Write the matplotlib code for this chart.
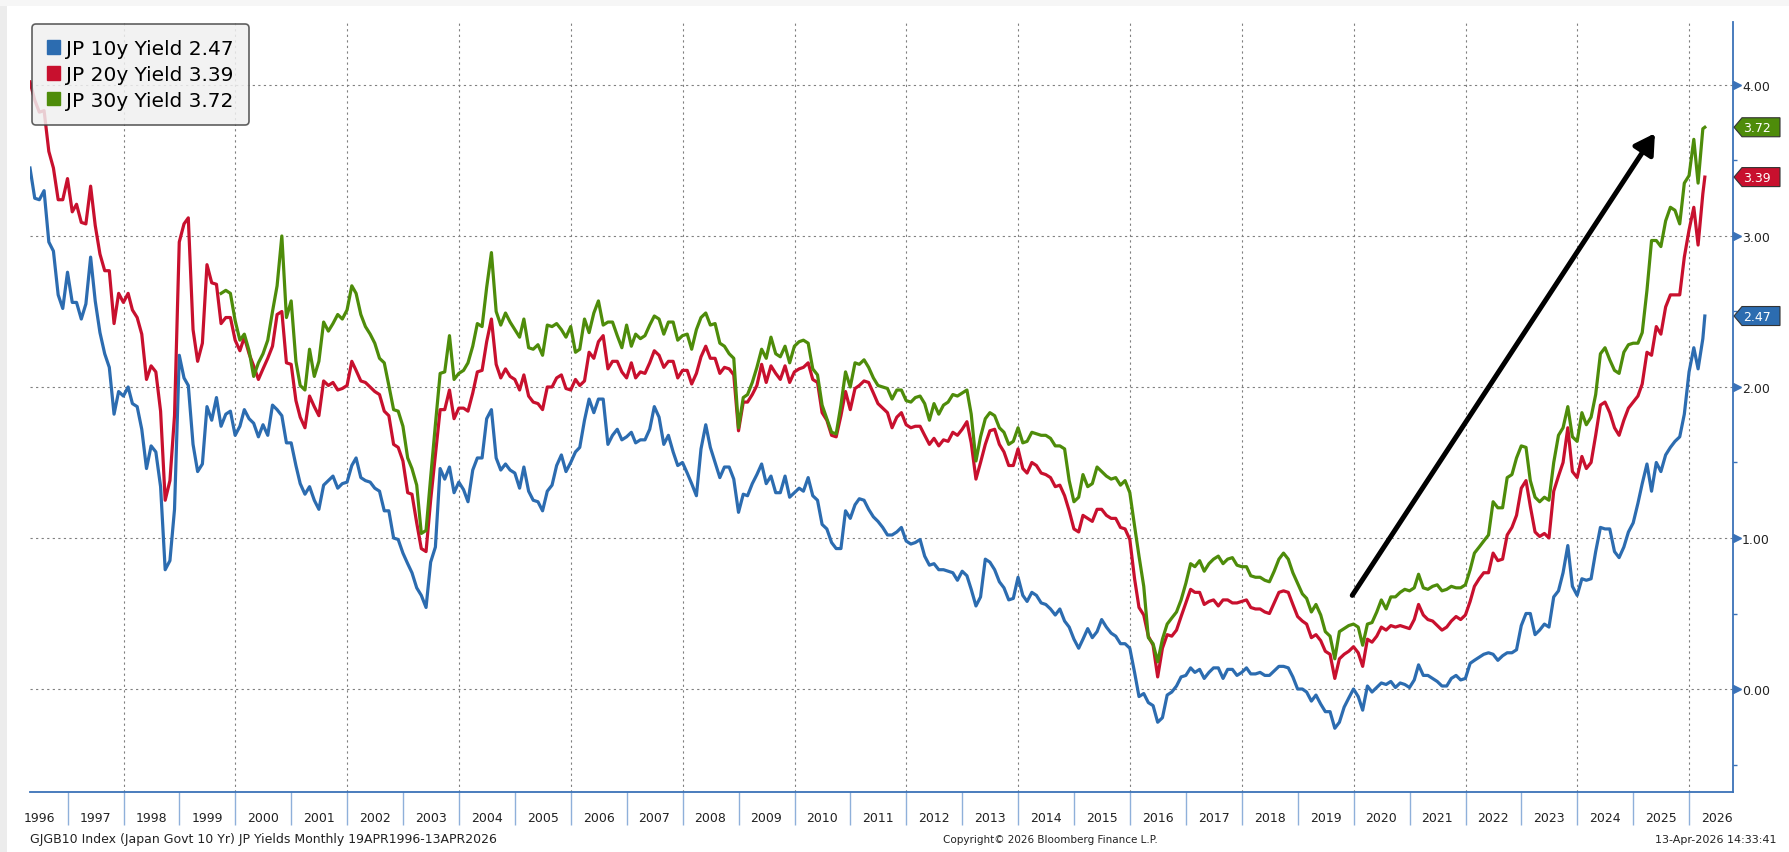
import matplotlib
matplotlib.use("Agg")
import matplotlib.pyplot as plt
import matplotlib.dates as mdates
from matplotlib.patches import Patch, Polygon, Rectangle
from matplotlib.ticker import MultipleLocator, FormatStrFormatter, NullFormatter, FixedLocator
from matplotlib.transforms import ScaledTranslation
import pandas as pd

plt.rcParams["font.family"] = ["DejaVu Sans"]

# Data: monthly closes Apr-1996 .. Mar-2026, plus the partial Apr-2026 print
dates = list(pd.date_range("1996-04-30", "2026-03-31", freq=pd.offsets.MonthEnd()))
dates.append(pd.Timestamp("2026-04-13"))

jp10 = [
    3.45, 3.25, 3.24, 3.30, 2.96, 2.90, 2.61, 2.52, 2.76, 2.56,
    2.56, 2.45, 2.55, 2.86, 2.57, 2.36, 2.22, 2.13, 1.82, 1.97,
    1.94, 2.00, 1.89, 1.87, 1.72, 1.46, 1.61, 1.57, 1.34, 0.79,
    0.85, 1.19, 2.21, 2.06, 2.01, 1.62, 1.44, 1.49, 1.87, 1.78,
    1.93, 1.74, 1.82, 1.84, 1.68, 1.74, 1.85, 1.79, 1.76, 1.67,
    1.75, 1.68, 1.88, 1.85, 1.81, 1.63, 1.63, 1.48, 1.36, 1.29,
    1.34, 1.25, 1.19, 1.35, 1.38, 1.41, 1.33, 1.36, 1.37, 1.48,
    1.53, 1.40, 1.38, 1.37, 1.33, 1.31, 1.18, 1.18, 1.00, 0.99,
    0.90, 0.83, 0.77, 0.67, 0.62, 0.54, 0.84, 0.94, 1.46, 1.39,
    1.47, 1.30, 1.37, 1.32, 1.24, 1.45, 1.53, 1.53, 1.79, 1.85,
    1.53, 1.45, 1.49, 1.45, 1.43, 1.33, 1.47, 1.31, 1.25, 1.24,
    1.18, 1.31, 1.35, 1.48, 1.55, 1.44, 1.50, 1.57, 1.60, 1.78,
    1.92, 1.83, 1.92, 1.92, 1.62, 1.68, 1.72, 1.65, 1.67, 1.70,
    1.63, 1.65, 1.65, 1.72, 1.87, 1.80, 1.62, 1.68, 1.57, 1.48,
    1.50, 1.43, 1.36, 1.28, 1.59, 1.75, 1.60, 1.50, 1.40, 1.47,
    1.47, 1.39, 1.17, 1.29, 1.28, 1.36, 1.42, 1.49, 1.36, 1.41,
    1.30, 1.30, 1.41, 1.27, 1.30, 1.33, 1.31, 1.40, 1.28, 1.25,
    1.09, 1.06, 0.97, 0.93, 0.93, 1.18, 1.13, 1.22, 1.26, 1.25,
    1.19, 1.14, 1.11, 1.07, 1.02, 1.02, 1.04, 1.07, 0.98, 0.96,
    0.97, 0.99, 0.88, 0.82, 0.83, 0.79, 0.79, 0.78, 0.77, 0.72,
    0.78, 0.75, 0.66, 0.55, 0.61, 0.86, 0.84, 0.79, 0.71, 0.67,
    0.59, 0.60, 0.74, 0.62, 0.58, 0.64, 0.62, 0.57, 0.56, 0.53,
    0.49, 0.53, 0.45, 0.41, 0.33, 0.27, 0.33, 0.40, 0.34, 0.38,
    0.46, 0.41, 0.37, 0.35, 0.30, 0.30, 0.27, 0.11, -0.05, -0.03,
    -0.09, -0.11, -0.22, -0.19, -0.04, -0.02, 0.02, 0.08, 0.09, 0.14,
    0.11, 0.13, 0.07, 0.11, 0.14, 0.14, 0.07, 0.13, 0.13, 0.09,
    0.11, 0.14, 0.10, 0.10, 0.11, 0.09, 0.09, 0.12, 0.15, 0.15,
    0.14, 0.08, 0.00, 0.00, -0.02, -0.08, -0.04, -0.10, -0.15, -0.15,
    -0.26, -0.22, -0.12, -0.06, 0.00, -0.05, -0.14, 0.02, -0.02, 0.01,
    0.04, 0.03, 0.05, 0.01, 0.04, 0.03, 0.01, 0.06, 0.16, 0.09,
    0.09, 0.07, 0.05, 0.02, 0.02, 0.07, 0.09, 0.06, 0.07, 0.17,
    0.19, 0.21, 0.23, 0.24, 0.23, 0.19, 0.22, 0.24, 0.24, 0.26,
    0.42, 0.50, 0.50, 0.36, 0.39, 0.43, 0.41, 0.61, 0.65, 0.77,
    0.95, 0.68, 0.62, 0.73, 0.72, 0.73, 0.91, 1.07, 1.06, 1.06,
    0.91, 0.87, 0.94, 1.04, 1.10, 1.23, 1.36, 1.49, 1.31, 1.50,
    1.44, 1.55, 1.60, 1.64, 1.67, 1.82, 2.10, 2.26, 2.12, 2.32, 2.47,
]

jp20 = [
    4.02, 3.90, 3.82, 3.83, 3.56, 3.45, 3.24, 3.24, 3.38, 3.16,
    3.21, 3.09, 3.08, 3.33, 3.07, 2.88, 2.77, 2.77, 2.42, 2.62,
    2.56, 2.62, 2.51, 2.46, 2.35, 2.05, 2.14, 2.10, 1.84, 1.25,
    1.38, 1.81, 2.96, 3.08, 3.12, 2.38, 2.17, 2.29, 2.81, 2.69,
    2.68, 2.42, 2.46, 2.46, 2.31, 2.24, 2.33, 2.22, 2.14, 2.05,
    2.12, 2.19, 2.27, 2.48, 2.50, 2.16, 2.15, 1.91, 1.80, 1.73,
    1.94, 1.87, 1.81, 2.04, 2.01, 2.03, 1.98, 1.99, 2.01, 2.17,
    2.11, 2.04, 2.03, 2.00, 1.97, 1.95, 1.84, 1.81, 1.62, 1.60,
    1.51, 1.30, 1.29, 1.10, 0.93, 0.91, 1.25, 1.55, 1.85, 1.85,
    1.98, 1.79, 1.86, 1.86, 1.84, 1.96, 2.10, 2.11, 2.30, 2.45,
    2.15, 2.06, 2.12, 2.07, 2.05, 1.98, 2.08, 1.94, 1.90, 1.89,
    1.85, 2.00, 2.00, 2.06, 2.08, 1.99, 1.98, 2.05, 2.01, 2.04,
    2.23, 2.19, 2.30, 2.34, 2.12, 2.17, 2.17, 2.10, 2.06, 2.16,
    2.06, 2.10, 2.09, 2.16, 2.24, 2.21, 2.13, 2.17, 2.17, 2.06,
    2.11, 2.11, 2.02, 2.09, 2.20, 2.27, 2.19, 2.19, 2.09, 2.13,
    2.12, 2.08, 1.71, 1.90, 1.90, 1.95, 2.01, 2.15, 2.03, 2.14,
    2.09, 2.05, 2.14, 2.03, 2.10, 2.12, 2.13, 2.16, 2.05, 2.03,
    1.83, 1.78, 1.68, 1.67, 1.81, 1.97, 1.85, 1.99, 2.01, 2.04,
    2.03, 1.96, 1.89, 1.86, 1.83, 1.73, 1.80, 1.83, 1.75, 1.73,
    1.74, 1.74, 1.68, 1.62, 1.66, 1.61, 1.65, 1.64, 1.70, 1.68,
    1.72, 1.77, 1.63, 1.39, 1.50, 1.62, 1.71, 1.72, 1.62, 1.57,
    1.48, 1.48, 1.59, 1.46, 1.43, 1.50, 1.48, 1.43, 1.42, 1.40,
    1.34, 1.35, 1.28, 1.18, 1.06, 1.04, 1.15, 1.13, 1.11, 1.19,
    1.19, 1.15, 1.13, 1.13, 1.07, 1.06, 0.99, 0.73, 0.54, 0.49,
    0.35, 0.29, 0.08, 0.27, 0.36, 0.35, 0.39, 0.48, 0.57, 0.66,
    0.64, 0.64, 0.56, 0.58, 0.59, 0.55, 0.59, 0.59, 0.57, 0.57,
    0.58, 0.59, 0.54, 0.53, 0.53, 0.51, 0.50, 0.57, 0.64, 0.65,
    0.64, 0.56, 0.48, 0.45, 0.43, 0.34, 0.36, 0.32, 0.25, 0.23,
    0.07, 0.20, 0.23, 0.25, 0.28, 0.24, 0.15, 0.33, 0.31, 0.35,
    0.41, 0.39, 0.42, 0.41, 0.42, 0.41, 0.40, 0.46, 0.56, 0.49,
    0.46, 0.45, 0.42, 0.39, 0.41, 0.45, 0.48, 0.46, 0.49, 0.58,
    0.68, 0.73, 0.77, 0.77, 0.90, 0.85, 0.86, 1.02, 1.07, 1.15,
    1.33, 1.38, 1.21, 1.04, 1.01, 1.03, 1.00, 1.31, 1.41, 1.50,
    1.73, 1.44, 1.40, 1.54, 1.46, 1.50, 1.68, 1.88, 1.90, 1.83,
    1.73, 1.68, 1.78, 1.86, 1.90, 1.94, 2.02, 2.23, 2.21, 2.40,
    2.35, 2.53, 2.61, 2.61, 2.61, 2.86, 3.04, 3.19, 2.94, 3.28, 3.39,
]

# 30y history begins Sep-1999 (41 months after the first date)
jp30_first = 41
jp30 = [
    2.62, 2.64, 2.62, 2.44, 2.31, 2.35, 2.24, 2.07, 2.16,
    2.22, 2.31, 2.50, 2.67, 3.00, 2.46, 2.57, 2.17, 2.01, 1.98,
    2.25, 2.07, 2.17, 2.43, 2.37, 2.42, 2.48, 2.45, 2.51, 2.67,
    2.62, 2.48, 2.40, 2.35, 2.29, 2.19, 2.16, 2.01, 1.85, 1.84,
    1.74, 1.53, 1.46, 1.35, 1.03, 1.05, 1.40, 1.75, 2.09, 2.10,
    2.34, 2.05, 2.09, 2.11, 2.16, 2.27, 2.42, 2.40, 2.66, 2.89,
    2.50, 2.41, 2.49, 2.43, 2.38, 2.33, 2.45, 2.26, 2.25, 2.28,
    2.21, 2.41, 2.40, 2.42, 2.38, 2.33, 2.40, 2.23, 2.25, 2.45,
    2.36, 2.49, 2.57, 2.41, 2.43, 2.43, 2.34, 2.26, 2.41, 2.27,
    2.35, 2.32, 2.34, 2.41, 2.47, 2.45, 2.35, 2.43, 2.43, 2.31,
    2.34, 2.35, 2.25, 2.38, 2.46, 2.49, 2.41, 2.42, 2.29, 2.27,
    2.22, 2.19, 1.73, 1.93, 1.95, 2.03, 2.13, 2.25, 2.19, 2.33,
    2.22, 2.20, 2.27, 2.16, 2.27, 2.30, 2.31, 2.29, 2.12, 2.08,
    1.88, 1.79, 1.70, 1.69, 1.88, 2.10, 2.00, 2.16, 2.15, 2.18,
    2.13, 2.06, 2.01, 2.00, 1.99, 1.92, 1.98, 1.98, 1.91, 1.90,
    1.93, 1.94, 1.89, 1.78, 1.89, 1.82, 1.88, 1.90, 1.95, 1.94,
    1.96, 1.98, 1.82, 1.51, 1.67, 1.79, 1.83, 1.81, 1.73, 1.70,
    1.62, 1.64, 1.73, 1.63, 1.64, 1.70, 1.69, 1.68, 1.68, 1.66,
    1.61, 1.61, 1.59, 1.38, 1.24, 1.27, 1.42, 1.34, 1.36, 1.47,
    1.44, 1.41, 1.39, 1.40, 1.35, 1.38, 1.30, 1.08, 0.88, 0.68,
    0.34, 0.30, 0.18, 0.33, 0.43, 0.47, 0.51, 0.59, 0.70, 0.83,
    0.81, 0.85, 0.78, 0.83, 0.86, 0.88, 0.83, 0.86, 0.87, 0.82,
    0.81, 0.81, 0.75, 0.74, 0.74, 0.72, 0.71, 0.78, 0.86, 0.90,
    0.86, 0.77, 0.70, 0.63, 0.60, 0.51, 0.56, 0.49, 0.38, 0.35,
    0.20, 0.38, 0.40, 0.42, 0.43, 0.41, 0.29, 0.43, 0.44, 0.51,
    0.59, 0.53, 0.61, 0.61, 0.64, 0.66, 0.65, 0.67, 0.76, 0.67,
    0.66, 0.68, 0.69, 0.65, 0.66, 0.68, 0.67, 0.67, 0.69, 0.79,
    0.90, 0.94, 0.98, 1.02, 1.24, 1.20, 1.20, 1.40, 1.42, 1.53,
    1.61, 1.60, 1.38, 1.27, 1.24, 1.27, 1.25, 1.50, 1.68, 1.73,
    1.87, 1.67, 1.64, 1.83, 1.75, 1.80, 1.95, 2.22, 2.26, 2.18,
    2.11, 2.09, 2.23, 2.28, 2.29, 2.29, 2.36, 2.64, 2.97, 2.97,
    2.93, 3.10, 3.19, 3.17, 3.08, 3.35, 3.40, 3.64, 3.35, 3.71, 3.72,
]

names = ["JP 10y Yield", "JP 20y Yield", "JP 30y Yield"]
colors = ["#2c6cb0", "#c8102e", "#4e8c0a"]
y_ticks = [0, 1, 2, 3, 4]
grid_years = list(range(1998, 2027, 2))
arrow_tail = ("2019-12-23", 0.62)
arrow_head = ("2025-05-22", 3.68)

W, H = 1790, 853
spine_col = "#3a72b8"

fig = plt.figure(figsize=(W / 100, H / 100), dpi=100, facecolor="white")
fig.patches.append(Rectangle((0, 0), 7 / W, 1, transform=fig.transFigure,
                             facecolor="#ececec", edgecolor="none", zorder=-5))
fig.patches.append(Rectangle((0, 1 - 7 / H), 1, 7 / H, transform=fig.transFigure,
                             facecolor="#f6f6f6", edgecolor="none", zorder=-5))

ax = fig.add_axes([30 / W, 1 - 793 / H, (1733 - 30) / W, (793 - 23) / H])
ax.set_facecolor("white")

series = [
    (dates, jp10),
    (dates, jp20),
    (dates[jp30_first:], jp30),
]
for (d, v), c in zip(series, colors):
    ax.plot(d, v, color=c, lw=2.3, solid_joinstyle="round", zorder=3)

ax.set_xlim(dates[0], pd.Timestamp("2026-10-14"))
ax.set_ylim(-0.682, 4.417)

# spines
for s in ["top", "left"]:
    ax.spines[s].set_visible(False)
for s in ["right", "bottom"]:
    ax.spines[s].set_color(spine_col)
    ax.spines[s].set_linewidth(1.3)

# y axis on the right
ax.yaxis.tick_right()
ax.yaxis.set_major_locator(FixedLocator(y_ticks))
ax.yaxis.set_major_formatter(FormatStrFormatter("%.2f"))
ax.yaxis.set_minor_locator(MultipleLocator(0.5))
ax.tick_params(axis="y", which="major", length=0, pad=6.5, labelsize=9, labelcolor="#222222")
ax.tick_params(axis="y", which="minor", length=3, width=1, color=spine_col, direction="out")
ax.grid(axis="y", which="major", color="#808080", lw=0.8, linestyle=(0, (2, 3)))

tri_off = ScaledTranslation(4.5 / 100, 0, fig.dpi_scale_trans)
for v in y_ticks:
    ax.plot(1, v, marker=">", ms=6, color=spine_col, mec=spine_col,
            transform=ax.get_yaxis_transform() + tri_off, clip_on=False, zorder=5)

# x axis: year separators + centred year labels
ax.xaxis.set_major_locator(mdates.YearLocator(1))
ax.xaxis.set_major_formatter(NullFormatter())
ax.xaxis.set_minor_locator(mdates.YearLocator(1, month=7, day=1))
ax.xaxis.set_minor_formatter(mdates.DateFormatter("%Y"))
ax.tick_params(axis="x", which="major", length=24, width=1, color="#8fb0da", direction="out")
ax.tick_params(axis="x", which="minor", length=0, pad=14, labelsize=9, labelcolor="#222222")

for yr in grid_years:
    ax.axvline(pd.Timestamp(f"{yr}-01-01"), color="#808080", lw=0.8,
               linestyle=(0, (2, 3)), zorder=1)

# arrow annotation
ax.annotate("", xy=(mdates.date2num(pd.Timestamp(arrow_head[0])), arrow_head[1]),
            xytext=(mdates.date2num(pd.Timestamp(arrow_tail[0])), arrow_tail[1]),
            arrowprops=dict(arrowstyle="-|>,head_length=0.6,head_width=0.35",
                            lw=3.6, color="black", mutation_scale=20,
                            shrinkA=0, shrinkB=0), zorder=6)

# legend
handles = [Patch(facecolor=c, edgecolor=c) for c in colors]
labels = [f"{n} {v[-1]:.2f}" for n, (d, v) in zip(names, series)]
leg = ax.legend(handles, labels, loc="upper left",
                bbox_to_anchor=(32 / W, 1 - 25 / H), bbox_transform=fig.transFigure,
                fontsize=14.5, frameon=True, fancybox=True, framealpha=0.85,
                facecolor="#f0f0f0", edgecolor="#444444", handlelength=0.65,
                handleheight=0.65, handletextpad=0.3, labelspacing=0.34,
                borderpad=0.75, borderaxespad=0)
leg.get_frame().set_linewidth(1.2)
leg.set_zorder(10)

# last-value tags on the right axis
to_fig = fig.transFigure.inverted()
x_ax = ax.transAxes.transform((1, 0))[0]
x_end = W - 10
for (d, v), c in zip(series, colors):
    y_px = ax.get_yaxis_transform().transform((1, v[-1]))[1]
    pts = [(x_ax + 1, y_px), (x_ax + 9, y_px + 9.5), (x_end, y_px + 9.5),
           (x_end, y_px - 9.5), (x_ax + 9, y_px - 9.5)]
    fig.patches.append(Polygon(to_fig.transform(pts), closed=True, facecolor=c,
                               edgecolor="#333333", lw=0.8, transform=fig.transFigure,
                               zorder=6))
    tx, ty = to_fig.transform((x_ax + 24, y_px))
    fig.text(tx, ty, f"{v[-1]:.2f}", color="white", fontsize=9,
             ha="center", va="center", zorder=7)

# footer
fig.text(30 / W, 1 - 840 / H, "GJGB10 Index (Japan Govt 10 Yr) JP Yields Monthly 19APR1996-13APR2026",
         fontsize=9, color="#222222", ha="left", va="center")
fig.text(1050 / W, 1 - 840 / H, "Copyright\u00a9 2026 Bloomberg Finance L.P.",
         fontsize=7.5, color="#222222", ha="center", va="center")
fig.text(1777 / W, 1 - 840 / H, "13-Apr-2026 14:33:41",
         fontsize=8, color="#222222", ha="right", va="center")

fig.savefig("out.png", dpi=100, facecolor=fig.get_facecolor())
